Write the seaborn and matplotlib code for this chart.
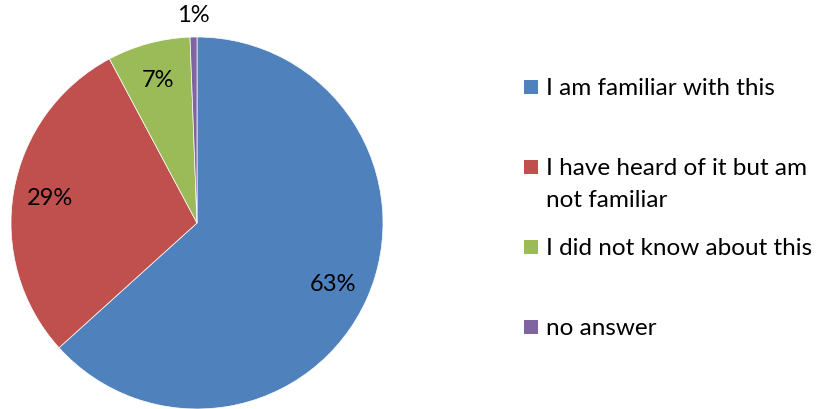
import matplotlib
matplotlib.use("Agg")
import matplotlib.pyplot as plt
from matplotlib.patches import Rectangle
import numpy as np
import seaborn as sns

# answer categories, shares (%) and Excel-style colours
categories = ["I am familiar with this",
              "I have heard of it but am\nnot familiar",
              "I did not know about this",
              "no answer"]
shares = [63.3, 28.9, 7.2, 0.6]
colors = ["#4F81BD", "#C0504D", "#9BBB59", "#8064A2"]

sns.set_theme(style="white")
plt.rcParams["font.family"] = ["Lato", "DejaVu Sans"]

W, H = 819, 410
fig = plt.figure(figsize=(W / 100, H / 100), dpi=100)
ax = fig.add_axes([11 / W, 0 / H, 372 / W, 372 / H])

wedges, texts, autotexts = ax.pie(
    shares, colors=colors, startangle=90, counterclock=False,
    autopct="%.0f%%", pctdistance=0.8,
    wedgeprops=dict(edgecolor="white", linewidth=0.5),
    textprops=dict(fontsize=17, color="black"))
ax.set_xlim(-1, 1)
ax.set_ylim(-1, 1)

# the tiny slice gets its label outside the pie
w = wedges[-1]
ang = np.deg2rad((w.theta1 + w.theta2) / 2)
autotexts[-1].set_position((1.12 * np.cos(ang), 1.12 * np.sin(ang)))

# legend on the right, one slot every 80 px
for i, (label, color) in enumerate(zip(categories, colors)):
    yc = 88 + 80 * i
    fig.patches.append(Rectangle((524 / W, 1 - (yc + 7) / H), 14 / W, 14 / H,
                                 transform=fig.transFigure, facecolor=color,
                                 edgecolor="none"))
    fig.text(546 / W, 1 - (yc - 10) / H, label, fontsize=17.5, color="black",
             va="top", ha="left", linespacing=1.62)

fig.savefig("out.png", dpi=100)
